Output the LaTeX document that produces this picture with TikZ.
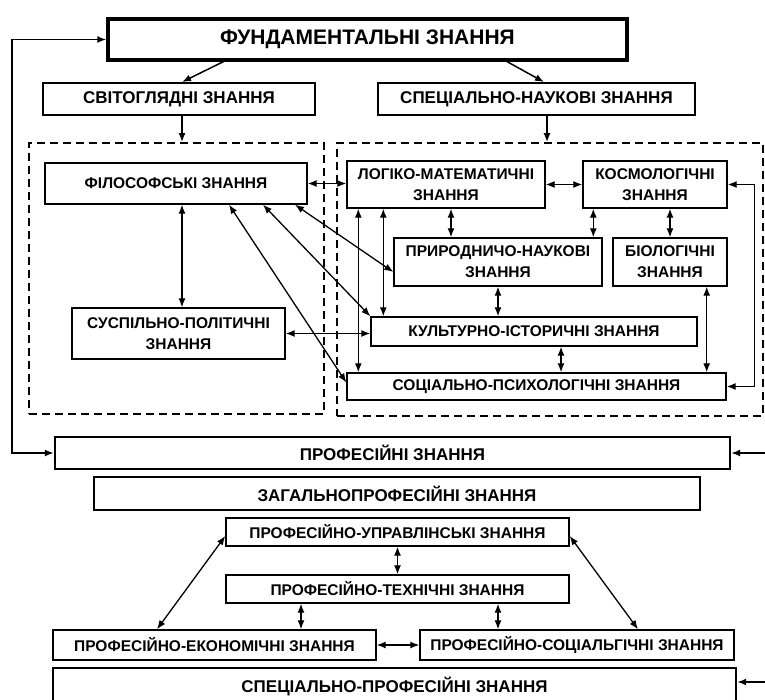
\documentclass[tikz,border=0pt]{standalone}
\usepackage{fontspec}
\setmainfont{Liberation Sans}
\usetikzlibrary{arrows,arrows.meta,positioning,calc}

\begin{document}
\begin{tikzpicture}[x=1pt,y=-1pt,>={Latex[length=9pt,width=7pt]},
	box/.style={draw, line width=1.4pt, inner sep=0pt, align=center, font=\bfseries\fontsize{15.5}{21}\selectfont},
	bigbox/.style={box, line width=2.2pt, font=\bfseries\fontsize{17}{21}\selectfont},
	topbox/.style={box, line width=3.2pt, font=\bfseries\fontsize{21}{24}\selectfont},
	group/.style={draw, dash pattern=on 8pt off 5pt, line width=1.8pt, inner sep=0pt},
	link/.style={<->, line width=1.3pt},
	feed/.style={->, line width=1.5pt}]
				\useasboundingbox (0,0) rectangle (765,700);

				% Fundamental
				\node[topbox, minimum width=519, minimum height=41] (fund) at (367.5,39.5) {ФУНДАМЕНТАЛЬНІ ЗНАННЯ};
				\node[bigbox, line width=1.9pt, minimum width=272, minimum height=32] (svit) at (179,99) {СВІТОГЛЯДНІ ЗНАННЯ};
				\node[bigbox, line width=1.9pt, minimum width=317, minimum height=32] (spec) at (536.5,99) {СПЕЦІАЛЬНО-НАУКОВІ ЗНАННЯ};
				\draw[feed] ([xshift=-144]fund.south) -- ([xshift=3]svit.north);
				\draw[feed] ([xshift=139.5]fund.south) -- ([xshift=7.5]spec.north);

				% Groups
				\node[group, minimum width=295, minimum height=271] (grpL) at (176.5,278.5) {};
				\node[group, minimum width=426, minimum height=273] (grpR) at (550,279.5) {};
				\draw[feed] ([xshift=3]svit.south) -- ([xshift=3]svit.south |- grpL.north);
				\draw[feed] ([xshift=10.5]spec.south) -- ([xshift=10.5]spec.south |- grpR.north);

				\node[box, minimum width=262, minimum height=41] (fil) at (176,183.5) {ФІЛОСОФСЬКІ ЗНАННЯ};
				\node[box, minimum width=213, minimum height=51] (susp) at (178.5,333.5) {СУСПІЛЬНО-ПОЛІТИЧНІ\\ЗНАННЯ};
				\node[box, minimum width=198, minimum height=47] (log) at (446,184.5) {ЛОГІКО-МАТЕМАТИЧНІ\\ЗНАННЯ};
				\node[box, minimum width=144, minimum height=47] (kosm) at (655,184.5) {КОСМОЛОГІЧНІ\\ЗНАННЯ};
				\node[box, minimum width=208, minimum height=48] (pryr) at (498,262) {ПРИРОДНИЧО-НАУКОВІ\\ЗНАННЯ};
				\node[box, minimum width=114, minimum height=48] (bio) at (670,262) {БІОЛОГІЧНІ\\ЗНАННЯ};
				\node[box, minimum width=326, minimum height=29] (kult) at (534,331.5) {КУЛЬТУРНО-ІСТОРИЧНІ ЗНАННЯ};
				\node[box, minimum width=379, minimum height=27] (soc) at (536.5,386.5) {СОЦІАЛЬНО-ПСИХОЛОГІЧНІ ЗНАННЯ};

				\draw[link] (fil.east) -- (fil.east -| log.west);
				\draw[link] (log.east) -- (log.east -| kosm.west);
				\draw[link] ([xshift=6]fil.south) -- ([xshift=6]fil.south |- susp.north);
				\draw[link] ([xshift=119]fil.south) -- ([yshift=-10]pryr.west);
				\draw[link] ([xshift=87]fil.south) -- (kult.north west);
				\draw[link] ([xshift=53]fil.south) -- ([yshift=4]soc.west);
				\draw[link] (susp.east) -- (susp.east -| kult.west);
				\draw[link] ([xshift=12]log.south west) -- ([xshift=12]log.south west |- soc.north);
				\draw[link] ([xshift=37]log.south west) -- ([xshift=37]log.south west |- kult.north);
				\draw[link] ([xshift=5]log.south) -- ([xshift=5]log.south |- pryr.north);
				\draw[link] ([xshift=11]kosm.south west) -- ([xshift=11]kosm.south west |- pryr.north);
				\draw[link] (bio.north) -- (bio.north |- kosm.south);
				\draw[link] (pryr.south) -- (pryr.south |- kult.north);
				\draw[link] ([xshift=-21]bio.south east) -- ([xshift=-21]bio.south east |- soc.north);
				\draw[link] ([xshift=27]kult.south) -- ([xshift=27]kult.south |- soc.north);
				\draw[link] (kosm.east) -- ++(27,0) |- (soc.east);

				% Professional
				\node[bigbox, minimum width=675, minimum height=32] (prof) at (392.5,453) {ПРОФЕСІЙНІ ЗНАННЯ};
				\node[bigbox, minimum width=606, minimum height=33] (zag) at (397,493.5) {ЗАГАЛЬНОПРОФЕСІЙНІ ЗНАННЯ};
				\node[box, minimum width=343, minimum height=28] (upr) at (397.5,532) {ПРОФЕСІЙНО-УПРАВЛІНСЬКІ ЗНАННЯ};
				\node[box, minimum width=343, minimum height=28] (texn) at (397.5,589) {ПРОФЕСІЙНО-ТЕХНІЧНІ ЗНАННЯ};
				\node[box, minimum width=323, minimum height=30] (ekon) at (214.5,645) {ПРОФЕСІЙНО-ЕКОНОМІЧНІ ЗНАННЯ};
				\node[box, minimum width=314, minimum height=30] (socg) at (577,645) {ПРОФЕСІЙНО-СОЦІАЛЬГІЧНІ ЗНАННЯ};
				\node[bigbox, minimum width=683, minimum height=36] (sprof) at (394.5,686) {СПЕЦІАЛЬНО-ПРОФЕСІЙНІ ЗНАННЯ};

				\coordinate (loopL) at (12,453);
				\coordinate (inP) at (765,453);
				\coordinate (inS) at (765,682);
				\draw[feed, <->, line width=1.8pt] (fund.west) -| (loopL) -- (prof.west);
				\draw[feed, line width=1.8pt] (inP) -- (prof.east);
				\draw[feed, line width=1.8pt] (inS) -- (inS -| sprof.east);

				\draw[link] (upr.south) -- (texn.north);
				\draw[link] ([xshift=-96.5]texn.south) -- ([xshift=-96.5]texn.south |- ekon.north);
				\draw[link] ([xshift=100.5]texn.south) -- ([xshift=100.5]texn.south |- socg.north);
				\draw[link] (ekon.east) -- (socg.west);
				\draw[link] ([yshift=-4]upr.west) -- ([xshift=-57.5]ekon.north);
				\draw[link] ([yshift=-4]upr.east) -- ([xshift=61]socg.north);
			\end{tikzpicture}
\end{document}
